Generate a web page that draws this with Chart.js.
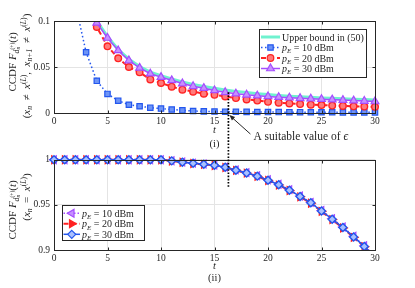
<!DOCTYPE html>
<html>
<head>
<meta charset="utf-8">
<script src="https://cdn.jsdelivr.net/npm/chart.js@4.4.1/dist/chart.umd.min.js"></script>
<style>
  html, body { margin: 0; padding: 0; background: #fff; }
  #wrap { position: relative; width: 415px; height: 288px; }
  #top { position: absolute; left: 0; top: 0; }
  #bot { position: absolute; left: 0; top: 150px; }
</style>
</head>
<body>
<div id="wrap">
  <canvas id="top" width="415" height="150"></canvas>
  <canvas id="bot" width="415" height="138"></canvas>
</div>
<script>
// --- data ---
const tValues = [0, 1, 2, 3, 4, 5, 6, 7, 8, 9, 10, 11, 12, 13, 14, 15, 16, 17, 18, 19, 20, 21, 22, 23, 24, 25, 26, 27, 28, 29, 30];
const xTicks = [0, 5, 10, 15, 20, 25, 30];
const yTicksTop = [0, 0.05, 0.1];
const yTicksBot = [0.9, 0.95, 1];

// (i) x_n != x^(L), x_{n+1} != x^(L)
const upperBound = [1, 0.6, 0.3, 0.15, 0.1, 0.083, 0.069, 0.0585, 0.0505, 0.0445, 0.0405, 0.037, 0.0338, 0.031, 0.0288, 0.0268, 0.025, 0.0235, 0.0222, 0.021, 0.02, 0.0191, 0.0183, 0.0176, 0.017, 0.0164, 0.0159, 0.0154, 0.015, 0.0146, 0.0142];
const top10dBm = [1, 0.45, 0.118, 0.066, 0.035, 0.0207, 0.0134, 0.009, 0.0073, 0.0058, 0.0048, 0.0038, 0.0029, 0.0022, 0.0018, 0.0016, 0.0014, 0.0013, 0.0012, 0.0011, 0.001, 0.001, 0.0009, 0.0009, 0.0008, 0.0008, 0.0008, 0.0007, 0.0007, 0.0007, 0.0007];
const top20dBm = [1, 0.62, 0.3, 0.13, 0.0935, 0.0725, 0.0594, 0.05, 0.0442, 0.0365, 0.0326, 0.0286, 0.0254, 0.0232, 0.021, 0.0198, 0.018, 0.0162, 0.0148, 0.0135, 0.0122, 0.0112, 0.0104, 0.0097, 0.0091, 0.0086, 0.0081, 0.0077, 0.0073, 0.007, 0.0067];
const top30dBm = [1, 0.65, 0.32, 0.14, 0.098, 0.0815, 0.068, 0.057, 0.049, 0.0427, 0.039, 0.0355, 0.032, 0.029, 0.027, 0.0245, 0.0225, 0.021, 0.0198, 0.0188, 0.018, 0.0172, 0.0166, 0.016, 0.0155, 0.015, 0.0145, 0.014, 0.0135, 0.013, 0.0125];

// (ii) x_n = x^(L)
const bot10dBm = [1, 1, 1, 1, 1, 1, 1, 1, 1, 1, 1, 0.9988, 0.9975, 0.9962, 0.9952, 0.994, 0.9918, 0.9887, 0.9857, 0.9822, 0.9778, 0.9728, 0.9668, 0.9598, 0.9528, 0.9438, 0.9348, 0.9255, 0.9152, 0.9048, 0.893];
const bot20dBm = [1, 1, 1, 1, 1, 1, 1, 1, 1, 1, 1, 0.9986, 0.9972, 0.9958, 0.9948, 0.9936, 0.9913, 0.9882, 0.9851, 0.9815, 0.977, 0.9719, 0.9659, 0.9589, 0.9518, 0.9428, 0.9337, 0.9243, 0.914, 0.9036, 0.892];
const bot30dBm = [1, 1, 1, 1, 1, 1, 1, 1, 1, 1, 1, 0.9987, 0.9973, 0.996, 0.995, 0.9938, 0.9916, 0.9884, 0.9853, 0.9818, 0.9773, 0.9722, 0.9662, 0.9593, 0.9522, 0.9432, 0.9341, 0.9248, 0.9145, 0.904, 0.8925];

const epsT = 16.3;

// --- styling ---
const serif = "'Liberation Serif', 'Times New Roman', serif";
const ink = '#262626';
const gridCol = '#e4e4e4';
const cyan = '#6ff2cf';
const blue = '#2356ee', blueFill = '#6d94f6';
const red = '#ff2222', redFill = '#ff7a7a';
const purple = '#a54dff', purpleFill = '#c690ff';

Chart.defaults.font.family = serif;
Chart.defaults.color = ink;

const pts = arr => tValues.map((t, i) => ({ x: t, y: arr[i] }));
const fmt = v => String(+v.toFixed(3));

// small rich-text helper for sub/superscripts: [text, scale, dy, italic, stackOnPrev]
function layoutRich(ctx, parts, size) {
  let cx = 0, startPrev = 0, endPrev = 0;
  const out = [];
  for (const [txt, sc, dy, it, stack] of parts) {
    const font = (it ? 'italic ' : '') + (size * sc).toFixed(1) + 'px ' + serif;
    ctx.font = font;
    const tw = ctx.measureText(txt).width;
    const sx = stack ? startPrev : cx;
    out.push({ txt, font, sx, dy: dy * size });
    if (stack) cx = Math.max(endPrev, sx + tw);
    else { startPrev = sx; endPrev = sx + tw; cx = endPrev; }
  }
  return { out, width: cx };
}
function rich(ctx, parts, x, y, size, align) {
  const L = layoutRich(ctx, parts, size);
  const x0 = align === 'center' ? x - L.width / 2 : x;
  ctx.textAlign = 'left';
  ctx.textBaseline = 'alphabetic';
  for (const p of L.out) { ctx.font = p.font; ctx.fillText(p.txt, x0 + p.sx, y + p.dy); }
}
function richRotated(ctx, parts, x, y, size) {
  ctx.save();
  ctx.translate(x, y);
  ctx.rotate(-Math.PI / 2);
  rich(ctx, parts, 0, 0, size, 'center');
  ctx.restore();
}

const superL = [['(', .7, -.38, 0], ['L', .7, -.38, 1], [')', .7, -.38, 0]];
const ccdfLabel = [['CCDF ', 1, 0, 0], ['F', 1, 0, 1], ['d', .7, .28, 1], ['n', .5, .45, 1], ['(+)', .5, -.1, 0, 1], ['(', 1, 0, 0], ['t', 1, 0, 1], [')', 1, 0, 0]];
const rel = s => ['\u2002' + s + '\u2002', 1, 0, 0];
const condTop = [['(', 1, 0, 0], ['x', 1, 0, 1], ['n', .7, .22, 1], rel('\u2260'), ['x', 1, 0, 1], ...superL, [',\u2002', 1, 0, 0],
  ['x', 1, 0, 1], ['n+1', .7, .22, 1], rel('\u2260'), ['x', 1, 0, 1], ...superL, [')', 1, 0, 0]];
const condBot = [['(', 1, 0, 0], ['x', 1, 0, 1], ['n', .7, .22, 1], rel('='), ['x', 1, 0, 1], ...superL, [')', 1, 0, 0]];
const pE = s => [['p', 1, 0, 1], ['E', .7, .22, 1], [' = ' + s, 1, 0, 0]];

function marker(ctx, style, x, y, r, rot, stroke, fill) {
  ctx.save();
  ctx.setLineDash([]);
  ctx.lineWidth = 1.2;
  ctx.strokeStyle = stroke;
  ctx.fillStyle = fill;
  ctx.beginPath();
  if (style === 'rect') {
    const s = Math.SQRT1_2 * r;
    ctx.rect(x - s, y - s, 2 * s, 2 * s);
  } else if (style === 'circle') {
    ctx.arc(x, y, r, 0, Math.PI * 2);
  } else if (style === 'rectRot') {
    ctx.moveTo(x, y - r); ctx.lineTo(x + r, y); ctx.lineTo(x, y + r); ctx.lineTo(x - r, y);
    ctx.closePath();
  } else {
    let a = rot * Math.PI / 180;
    ctx.moveTo(x + Math.sin(a) * r, y - Math.cos(a) * r);
    a += 2 * Math.PI / 3;
    ctx.lineTo(x + Math.sin(a) * r, y - Math.cos(a) * r);
    a += 2 * Math.PI / 3;
    ctx.lineTo(x + Math.sin(a) * r, y - Math.cos(a) * r);
    ctx.closePath();
  }
  ctx.fill();
  ctx.stroke();
  ctx.restore();
}

function frame(ctx, a, x, y, xt, yt) {
  const l = Math.round(a.left) + 0.5, r = Math.round(a.right) + 0.5;
  const t = Math.round(a.top) + 0.5, b = Math.round(a.bottom) + 0.5;
  ctx.save();
  ctx.setLineDash([]);
  ctx.strokeStyle = ink;
  ctx.lineWidth = 1;
  ctx.strokeRect(l, t, r - l, b - t);
  ctx.beginPath();
  xt.forEach(v => {
    const px = Math.round(x.getPixelForValue(v)) + 0.5;
    ctx.moveTo(px, b); ctx.lineTo(px, b - 3);
    ctx.moveTo(px, t); ctx.lineTo(px, t + 3);
  });
  yt.forEach(v => {
    const py = Math.round(y.getPixelForValue(v)) + 0.5;
    ctx.moveTo(l, py); ctx.lineTo(l + 3, py);
    ctx.moveTo(r, py); ctx.lineTo(r - 3, py);
  });
  ctx.stroke();
  ctx.restore();
}

function legendBox(ctx, left, top, w, h, rows, textX) {
  ctx.save();
  ctx.fillStyle = '#fff';
  ctx.fillRect(left, top, w, h);
  ctx.strokeStyle = ink;
  ctx.lineWidth = 1;
  ctx.strokeRect(Math.round(left) + 0.5, Math.round(top) + 0.5, Math.round(w), Math.round(h));
  rows.forEach(row => {
    ctx.save();
    ctx.strokeStyle = row.color;
    ctx.lineWidth = row.width;
    ctx.setLineDash(row.dash);
    ctx.beginPath();
    ctx.moveTo(left + 2, row.y);
    ctx.lineTo(textX - 2, row.y);
    ctx.stroke();
    ctx.restore();
    if (row.style) marker(ctx, row.style, (left + textX) / 2, row.y, row.r, row.rot || 0, row.color, row.fill);
    ctx.fillStyle = ink;
    rich(ctx, row.parts, textX, row.y + 3.5, 10, 'left');
  });
  ctx.restore();
}

function epsLine(ctx, px, y0, y1) {
  ctx.save();
  ctx.strokeStyle = '#000';
  ctx.lineWidth = 1.7;
  ctx.setLineDash([1.6, 1.6]);
  ctx.beginPath();
  ctx.moveTo(px, y0);
  ctx.lineTo(px, y1);
  ctx.stroke();
  ctx.restore();
}

function caption(ctx, a, dyT, dyLbl, lbl) {
  const cx = (a.left + a.right) / 2;
  ctx.fillStyle = ink;
  ctx.textAlign = 'center';
  ctx.textBaseline = 'middle';
  ctx.font = 'italic 10.5px ' + serif;
  ctx.fillText('t', cx, a.bottom + dyT);
  ctx.font = '10.5px ' + serif;
  ctx.fillText(lbl, cx, a.bottom + dyLbl);
}

const decoTop = {
  id: 'decoTop',
  afterDraw(chart) {
    const { ctx, chartArea: a, scales: { x, y } } = chart;
    ctx.save();
    frame(ctx, a, x, y, xTicks, yTicksTop);
    const ex = x.getPixelForValue(epsT);
    epsLine(ctx, ex, y.getPixelForValue(0.0225), chart.height);

    // arrow + annotation
    const tipX = ex + 1, tipY = y.getPixelForValue(0) + 2;
    const tailX = tipX + 21, tailY = tipY + 19;
    ctx.strokeStyle = ink; ctx.fillStyle = ink; ctx.lineWidth = 1;
    ctx.beginPath(); ctx.moveTo(tailX, tailY); ctx.lineTo(tipX + 2, tipY + 2); ctx.stroke();
    const ang = Math.atan2(tipY - tailY, tipX - tailX);
    ctx.beginPath();
    ctx.moveTo(tipX, tipY);
    ctx.lineTo(tipX - 6 * Math.cos(ang - 0.4), tipY - 6 * Math.sin(ang - 0.4));
    ctx.lineTo(tipX - 6 * Math.cos(ang + 0.4), tipY - 6 * Math.sin(ang + 0.4));
    ctx.closePath(); ctx.fill();
    rich(ctx, [['A suitable value of ', 1, 0, 0], ['\u03f5', 1, 0, 1]], tailX + 3, tailY + 6, 11.5, 'left');

    caption(ctx, a, 17.5, 31, '(i)');
    ctx.fillStyle = ink;
    richRotated(ctx, ccdfLabel, 15.5, 62, 11);
    richRotated(ctx, condTop, 30, 66, 11);

    legendBox(ctx, a.right - 116, a.top + 8, 107, 48, [
      { y: a.top + 16, color: cyan, width: 3, dash: [], parts: [['Upper bound in (50)', 1, 0, 0]] },
      { y: a.top + 26.5, color: blue, width: 1.5, dash: [1.5, 2.5], style: 'rect', r: 3.8, fill: blueFill, parts: pE('10 dBm') },
      { y: a.top + 37, color: red, width: 2, dash: [5, 3], style: 'circle', r: 3.3, fill: redFill, parts: pE('20 dBm') },
      { y: a.top + 47.5, color: purple, width: 1.5, dash: [], style: 'triangle', r: 4.5, fill: purpleFill, parts: pE('30 dBm') }
    ], a.right - 93);
    ctx.restore();
  }
};

const decoBot = {
  id: 'decoBot',
  afterDraw(chart) {
    const { ctx, chartArea: a, scales: { x, y } } = chart;
    ctx.save();
    frame(ctx, a, x, y, xTicks, yTicksBot);
    epsLine(ctx, x.getPixelForValue(epsT), 0, y.getPixelForValue(0.968));
    caption(ctx, a, 16.5, 28, '(ii)');
    ctx.fillStyle = ink;
    richRotated(ctx, ccdfLabel, 15.5, 210 - 150, 11);
    richRotated(ctx, condBot, 30, 197 - 150, 11);

    legendBox(ctx, a.left + 7.5, a.bottom - 45, 81.5, 35, [
      { y: a.bottom - 36.7, color: purple, width: 1.5, dash: [1.5, 2], style: 'triangle', r: 4.5, rot: -90, fill: purpleFill, parts: pE('10 dBm') },
      { y: a.bottom - 26.2, color: red, width: 2, dash: [5, 3], style: 'triangle', r: 4.5, rot: 90, fill: red, parts: pE('20 dBm') },
      { y: a.bottom - 15.7, color: blue, width: 1.5, dash: [], style: 'rectRot', r: 4, fill: '#a9c0ff', parts: pE('30 dBm') }
    ], a.left + 28);
    ctx.restore();
  }
};

function axes(yTicks, yMin, yMax, xHeight) {
  return {
    x: {
      type: 'linear', min: 0, max: 30,
      afterBuildTicks: s => { s.ticks = xTicks.map(v => ({ value: v })); },
      afterFit: s => { s.height = xHeight; },
      grid: { color: gridCol, drawTicks: false },
      border: { display: false },
      ticks: { padding: 3, font: { size: 9.5 }, color: ink, maxRotation: 0 }
    },
    y: {
      min: yMin, max: yMax,
      afterBuildTicks: s => { s.ticks = yTicks.map(v => ({ value: v })); },
      afterFit: s => { s.width = 54; },
      grid: { color: gridCol, drawTicks: false },
      border: { display: false },
      ticks: { padding: 4, font: { size: 9.5 }, color: ink, callback: fmt }
    }
  };
}

const common = {
  responsive: false,
  animation: false,
  plugins: { legend: { display: false }, tooltip: { enabled: false } },
  elements: { line: { tension: 0, fill: false } }
};

const clipTop = { left: 8, top: 0, right: 8, bottom: 8 };
new Chart(document.getElementById('top'), {
  type: 'line',
  data: {
    datasets: [
      { label: 'Upper bound in (50)', data: pts(upperBound), borderColor: cyan, borderWidth: 3, pointRadius: 0, order: 4, clip: clipTop },
      { label: 'pE = 10 dBm', data: pts(top10dBm), borderColor: blue, borderWidth: 1.5, borderDash: [1.5, 2.5],
        pointStyle: 'rect', pointRadius: 3.8, pointBorderWidth: 1.2, pointBorderColor: blue, pointBackgroundColor: blueFill, order: 3, clip: clipTop },
      { label: 'pE = 20 dBm', data: pts(top20dBm), borderColor: red, borderWidth: 2, borderDash: [5, 3],
        pointStyle: 'circle', pointRadius: 3.3, pointBorderWidth: 1.4, pointBorderColor: red, pointBackgroundColor: redFill, order: 2, clip: clipTop },
      { label: 'pE = 30 dBm', data: pts(top30dBm), borderColor: purple, borderWidth: 1.5,
        pointStyle: 'triangle', pointRadius: 4.5, pointBorderWidth: 1.2, pointBorderColor: purple, pointBackgroundColor: purpleFill, order: 1, clip: clipTop }
    ]
  },
  options: Object.assign({}, common, {
    layout: { padding: { top: 21, right: 40, left: 0, bottom: 0 } },
    scales: axes(yTicksTop, 0, 0.1, 37)
  }),
  plugins: [decoTop]
});

const clipBot = { left: 8, top: 8, right: 8, bottom: 0 };
new Chart(document.getElementById('bot'), {
  type: 'line',
  data: {
    datasets: [
      { label: 'pE = 10 dBm', data: pts(bot10dBm), borderColor: purple, borderWidth: 1.5, borderDash: [1.5, 2],
        pointStyle: 'triangle', pointRotation: -90, pointRadius: 4.5, pointBorderWidth: 1.2, pointBorderColor: purple, pointBackgroundColor: purpleFill, order: 3, clip: clipBot },
      { label: 'pE = 20 dBm', data: pts(bot20dBm), borderColor: red, borderWidth: 2, borderDash: [5, 3],
        pointStyle: 'triangle', pointRotation: 90, pointRadius: 4.5, pointBorderWidth: 1.2, pointBorderColor: red, pointBackgroundColor: red, order: 2, clip: clipBot },
      { label: 'pE = 30 dBm', data: pts(bot30dBm), borderColor: blue, borderWidth: 1.5,
        pointStyle: 'rectRot', pointRadius: 4, pointBorderWidth: 1.4, pointBorderColor: blue, pointBackgroundColor: '#a9c0ff', order: 1, clip: clipBot }
    ]
  },
  options: Object.assign({}, common, {
    layout: { padding: { top: 7, right: 40, left: 0, bottom: 0 } },
    scales: axes(yTicksBot, 0.9, 1, 38)
  }),
  plugins: [decoBot]
});
</script>
</body>
</html>
